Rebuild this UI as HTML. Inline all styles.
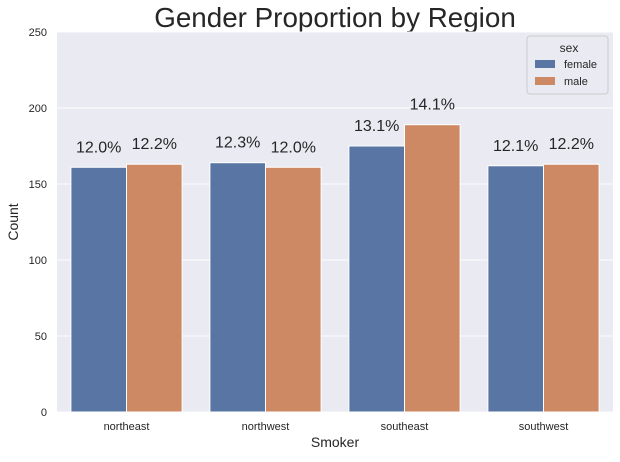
<!DOCTYPE html>
<html><head><meta charset="utf-8"><style>
body{margin:0;background:#fff;font-family:"Liberation Sans","DejaVu Sans",sans-serif}
</style></head><body>
<svg id="c" width="620" height="457" xmlns="http://www.w3.org/2000/svg">
<text x="335" y="27" text-anchor="middle" font-size="27.8" fill="#262626">Gender Proportion by Region</text>
<rect x="57" y="32" width="556" height="380" fill="#eaeaf2"/>
<g id="grid"></g><g id="bars"></g><g id="labels"></g>
<text x="335" y="447" text-anchor="middle" font-size="14" fill="#262626">Smoker</text>
<text transform="translate(18,222) rotate(-90)" text-anchor="middle" font-size="14" fill="#262626">Count</text>
<g>
<rect x="527" y="36" width="81" height="58" rx="3" fill="#eaeaf2" stroke="#cccccc"/>
<text x="569" y="52" text-anchor="middle" font-size="12" fill="#262626">sex</text>
<rect x="535" y="60" width="20" height="8" fill="#5975a4"/>
<text x="564" y="68" font-size="11" fill="#262626">female</text>
<rect x="535" y="77" width="20" height="8" fill="#cc8963"/>
<text x="564" y="85" font-size="11" fill="#262626">male</text>
</g>
</svg>
<script>
const categories=["northeast","northwest","southeast","southwest"];
const femaleCounts=[161,164,175,162];
const maleCounts=[163,161,189,163];
const femaleLabels=["12.0%","12.3%","13.1%","12.1%"];
const maleLabels=["12.2%","12.0%","14.1%","12.2%"];
const yTicks=[0,50,100,150,200,250];
const NS="http://www.w3.org/2000/svg";
const X0=57,W=556,Y0=412,H=380,YMAX=250;
const y=v=>Y0-v/YMAX*H;
const band=W/categories.length;
const grid=document.getElementById('grid'),bars=document.getElementById('bars'),labels=document.getElementById('labels');
function mk(tag,attrs,parent){const e=document.createElementNS(NS,tag);for(const k in attrs)e.setAttribute(k,attrs[k]);parent.appendChild(e);return e;}
yTicks.forEach(t=>{
  const l=mk('line',{x1:X0,x2:X0+W,y1:y(t),y2:y(t),stroke:'#fff','stroke-width':1},grid);
  
  
  const tx=mk('text',{x:X0-10,y:y(t)+4,'text-anchor':'end','font-size':11,fill:'#262626'},grid);
  tx.textContent=t;
  
  
});
const bw=band*0.4;
categories.forEach((c,i)=>{
  const cx=X0+band*(i+0.5);
  const series=[[femaleCounts[i],'#5975a4',femaleLabels[i],cx-bw,'female'],[maleCounts[i],'#cc8963',maleLabels[i],cx,'male']];
  series.forEach(s=>{
    const r=mk('rect',{x:s[3],y:y(s[0]),width:bw,height:Y0-y(s[0]),fill:s[1],stroke:'#fff','stroke-width':1},bars);
    
    
    const t=mk('text',{x:s[3]+bw/2,y:y(s[0])-15,'text-anchor':'middle','font-size':16,fill:'#262626'},labels);
    t.textContent=s[2];
    
    
  });
  const xt=mk('text',{x:cx,y:Y0+18,'text-anchor':'middle','font-size':11,fill:'#262626'},labels);
  xt.textContent=c;
  
  
});
</script>
</body></html>
